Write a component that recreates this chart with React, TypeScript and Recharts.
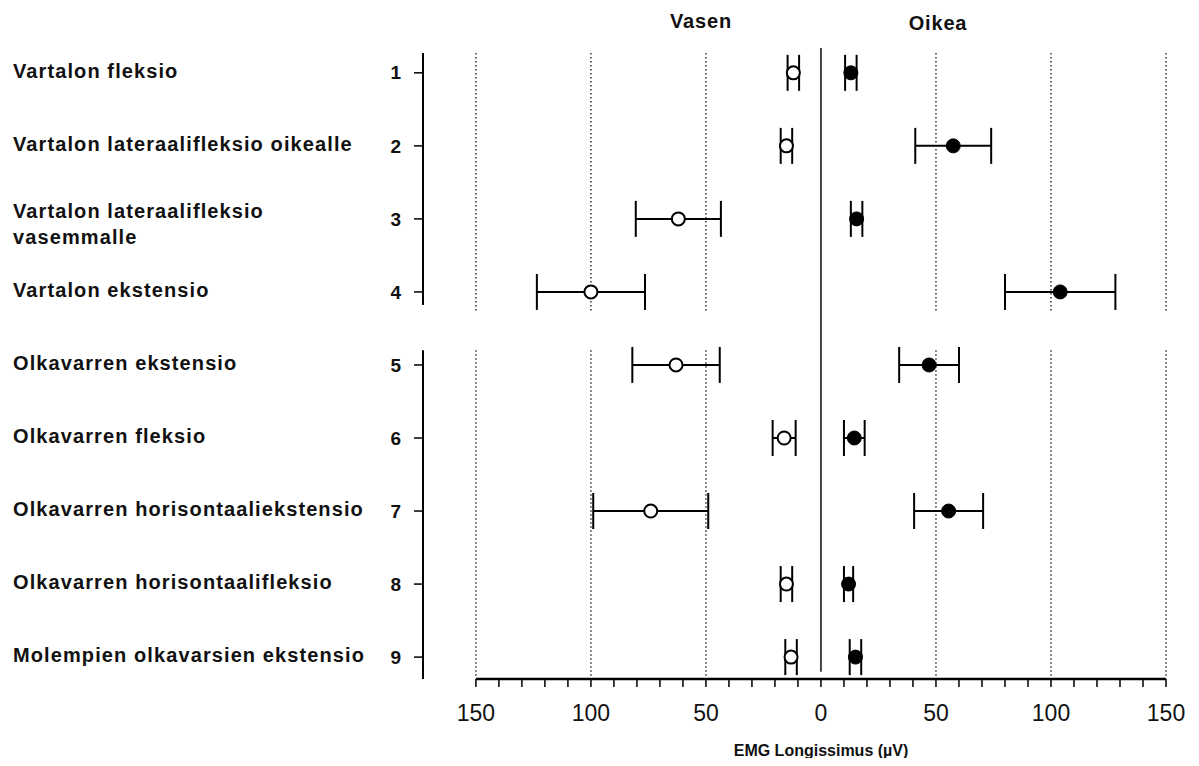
import {
  ScatterChart,
  Scatter,
  XAxis,
  YAxis,
  ErrorBar,
  ReferenceLine,
} from "recharts";

// rows of the forest plot, top to bottom
const rows = [1, 2, 3, 4, 5, 6, 7, 8, 9];
const categories = [
  "Vartalon fleksio",
  "Vartalon lateraalifleksio oikealle",
  "Vartalon lateraalifleksio\nvasemmalle",
  "Vartalon ekstensio",
  "Olkavarren ekstensio",
  "Olkavarren fleksio",
  "Olkavarren horisontaaliekstensio",
  "Olkavarren horisontaalifleksio",
  "Molempien olkavarsien ekstensio",
];

// Vasen (left side, open circles), EMG in µV
const leftMean = [12, 15, 62, 100, 63, 16, 74, 15, 13];
const leftErr = [2.5, 2.5, 18.5, 23.5, 19, 5, 25, 2.5, 2.5];

// Oikea (right side, filled circles)
const rightMean = [13, 57.5, 15.5, 104, 47, 14.5, 55.5, 12, 15];
const rightErr = [2.5, 16.5, 2.5, 24, 13, 4.5, 15, 2, 2.5];

const majorTicks = [-150, -100, -50, 0, 50, 100, 150];
const gridValues = [-150, -100, -50, 50, 100, 150];

const leftData = rows.map((r, i) => ({ row: r, x: -leftMean[i], err: leftErr[i] }));
const rightData = rows.map((r, i) => ({ row: r, x: rightMean[i], err: rightErr[i] }));
const xTicks = Array.from({ length: 31 }, (_, i) => -150 + i * 10);

const X_MIN = -173;
const Y_MIN = 0.66;
const Y_MAX = 9.3;
const FONT = "'Liberation Sans', Arial, sans-serif";

const RowTick = (props: any) => {
  const { y, payload } = props;
  const lines = categories[payload.value - 1].split("\n");
  const offsets = lines.length > 1 ? [-8, 18] : [-2];
  return (
    <g fontFamily={FONT} fontWeight="bold" fill="#111">
      {lines.map((line, i) => (
        <text key={i} x={5} y={y + offsets[i]} dy="0.35em" fontSize={20} letterSpacing={1.1}>
          {line}
        </text>
      ))}
      <text x={393} y={y} dy="0.35em" textAnchor="end" fontSize={19}>
        {payload.value}
      </text>
    </g>
  );
};

const OpenDot = (props: any) => (
  <circle cx={props.cx} cy={props.cy} r={6.5} fill="#fff" stroke="#000" strokeWidth={2} />
);
const FilledDot = (props: any) => (
  <circle cx={props.cx} cy={props.cy} r={7} fill="#000" stroke="#000" strokeWidth={1} />
);

export default function App() {
  const titleStyle: React.CSSProperties = {
    position: "absolute",
    transform: "translate(-50%, -50%)",
    fontFamily: FONT,
    fontWeight: "bold",
    whiteSpace: "nowrap",
    color: "#111",
  };
  return (
    <div style={{ position: "relative", width: 1183, height: 750 }}>
      <ScatterChart
        width={1183}
        height={750}
        margin={{ top: 40, right: 25, bottom: 39, left: 0 }}
      >
        <XAxis
          type="number"
          dataKey="x"
          domain={[X_MIN, 150]}
          allowDataOverflow
          ticks={xTicks}
          interval={0}
          axisLine={false}
          tickLine={{ stroke: "#000", strokeWidth: 1.5 }}
          tickSize={8}
          tickMargin={18}
          height={40}
          tickFormatter={(v: number) => (v % 50 === 0 ? String(Math.abs(v)) : "")}
          tick={{ fill: "#111", fontSize: 23, fontFamily: FONT }}
        />
        <YAxis
          type="number"
          dataKey="row"
          domain={[Y_MIN, Y_MAX]}
          allowDataOverflow
          reversed
          ticks={rows}
          interval={0}
          width={415}
          axisLine={false}
          tickLine={{ stroke: "#000", strokeWidth: 1.5 }}
          tickSize={9}
          tick={<RowTick />}
        />

        {gridValues.map((g) => (
          <ReferenceLine
            key={"a" + g}
            segment={[{ x: g, y: 0.73 }, { x: g, y: 4.27 }]}
            stroke="#333"
            strokeWidth={1.5}
            strokeDasharray="1.5 2.5"
          />
        ))}
        {gridValues.map((g) => (
          <ReferenceLine
            key={"b" + g}
            segment={[{ x: g, y: 4.8 }, { x: g, y: 9.27 }]}
            stroke="#333"
            strokeWidth={1.5}
            strokeDasharray="1.5 2.5"
          />
        ))}
        <ReferenceLine
          segment={[{ x: 0, y: Y_MIN }, { x: 0, y: 9.2 }]}
          stroke="#444"
          strokeWidth={2}
        />
        <ReferenceLine
          segment={[{ x: X_MIN, y: 0.73 }, { x: X_MIN, y: 4.18 }]}
          stroke="#000"
          strokeWidth={2}
        />
        <ReferenceLine
          segment={[{ x: X_MIN, y: 4.8 }, { x: X_MIN, y: Y_MAX }]}
          stroke="#000"
          strokeWidth={2}
        />
        <ReferenceLine
          segment={[{ x: majorTicks[0], y: Y_MAX }, { x: majorTicks[6], y: Y_MAX }]}
          stroke="#000"
          strokeWidth={2.5}
        />

        <Scatter data={leftData} shape={<OpenDot />} isAnimationActive={false}>
          <ErrorBar dataKey="err" direction="x" width={18} stroke="#000" strokeWidth={2} />
        </Scatter>
        <Scatter data={rightData} shape={<FilledDot />} isAnimationActive={false}>
          <ErrorBar dataKey="err" direction="x" width={18} stroke="#000" strokeWidth={2} />
        </Scatter>
      </ScatterChart>

      <div style={{ ...titleStyle, left: 693, top: 13, fontSize: 20, letterSpacing: 0.8 }}>Vasen</div>
      <div style={{ ...titleStyle, left: 930, top: 15, fontSize: 20, letterSpacing: 0.8 }}>Oikea</div>
      <div style={{ ...titleStyle, left: 813, top: 743, fontSize: 16 }}>EMG Longissimus (µV)</div>
    </div>
  );
}
